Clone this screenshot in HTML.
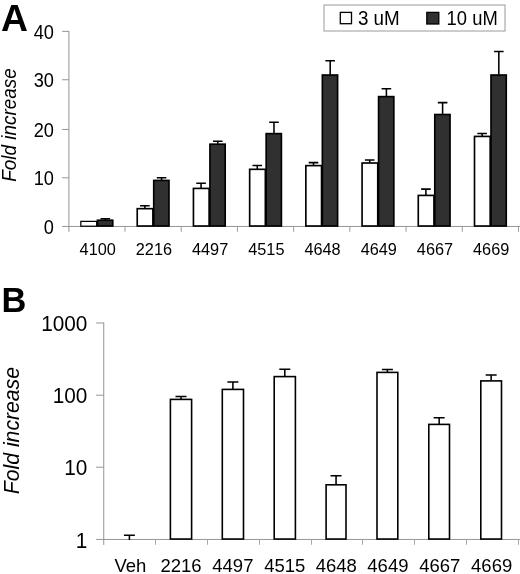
<!DOCTYPE html>
<html><head><meta charset="utf-8"><title>Figure</title>
<style>html,body{margin:0;padding:0;background:#fff;}svg{display:block;will-change:transform;}text{font-family:"Liberation Sans",sans-serif;fill:#000;}</style>
</head><body>
<svg width="520" height="574" viewBox="0 0 520 574">
<rect x="0" y="0" width="520" height="574" fill="#fff"/>
<text x="1.0" y="31.3" font-size="37.3" font-weight="bold">A</text>
<rect x="324" y="5" width="181" height="26" fill="#fff" stroke="#9a9a9a" stroke-width="1"/>
<rect x="340.3" y="12.4" width="11.2" height="11.3" fill="#fff" stroke="#000" stroke-width="1.3"/>
<text transform="translate(357.90,24.60) scale(1,1.06)" font-size="18.8" text-anchor="start">3 uM</text>
<rect x="426.8" y="12.4" width="12" height="11.6" fill="#303030" stroke="#000" stroke-width="1.3"/>
<text transform="translate(446.60,24.60) scale(1,1.06)" font-size="18.4" text-anchor="start">10 uM</text>
<g stroke="#949494" stroke-width="1" fill="none">
<line x1="68.9" y1="30.85" x2="68.9" y2="231.75"/>
<line x1="62.10000000000001" y1="226.45" x2="520" y2="226.45"/>
<line x1="62.10000000000001" y1="31.35" x2="68.9" y2="31.35"/>
<line x1="62.10000000000001" y1="79.75" x2="68.9" y2="79.75"/>
<line x1="62.10000000000001" y1="129.45" x2="68.9" y2="129.45"/>
<line x1="62.10000000000001" y1="177.80" x2="68.9" y2="177.80"/>
<line x1="125.01" y1="226.45" x2="125.01" y2="231.75" stroke="#9c9c9c"/>
<line x1="181.22" y1="226.45" x2="181.22" y2="231.75" stroke="#9c9c9c"/>
<line x1="237.43" y1="226.45" x2="237.43" y2="231.75" stroke="#9c9c9c"/>
<line x1="293.64" y1="226.45" x2="293.64" y2="231.75" stroke="#9c9c9c"/>
<line x1="349.85" y1="226.45" x2="349.85" y2="231.75" stroke="#9c9c9c"/>
<line x1="406.06" y1="226.45" x2="406.06" y2="231.75" stroke="#9c9c9c"/>
<line x1="462.27" y1="226.45" x2="462.27" y2="231.75" stroke="#9c9c9c"/>
<line x1="518.48" y1="226.45" x2="518.48" y2="231.75" stroke="#9c9c9c"/>
</g>
<text transform="translate(54.00,38.50) scale(1,1.08)" font-size="18.2" text-anchor="end">40</text>
<text transform="translate(54.00,86.90) scale(1,1.08)" font-size="18.2" text-anchor="end">30</text>
<text transform="translate(54.00,136.60) scale(1,1.08)" font-size="18.2" text-anchor="end">20</text>
<text transform="translate(54.00,184.95) scale(1,1.08)" font-size="18.2" text-anchor="end">10</text>
<text transform="translate(54.00,233.60) scale(1,1.08)" font-size="18.2" text-anchor="end">0</text>
<text transform="translate(16.2,125) rotate(-90) scale(1,1.06)" font-size="18.9" font-style="italic" text-anchor="middle">Fold increase</text>
<path d="M105.35 219.90V218.75M100.55 218.75H110.15" stroke="#000" stroke-width="1.55" fill="none"/>
<rect x="80.83" y="221.38" width="15.87" height="4.85" fill="#fff" stroke="#000" stroke-width="1.25"/>
<rect x="97.52" y="220.22" width="15.25" height="5.80" fill="#303030" stroke="#000" stroke-width="1.65"/>
<text x="97.70" y="255.3" font-size="16.3" text-anchor="middle">4100</text>
<path d="M144.86 208.35V205.75M140.06 205.75H149.66" stroke="#000" stroke-width="1.55" fill="none"/>
<path d="M161.56 180.10V177.75M156.76 177.75H166.36" stroke="#000" stroke-width="1.55" fill="none"/>
<rect x="137.23" y="208.67" width="15.68" height="17.35" fill="#fff" stroke="#000" stroke-width="1.65"/>
<rect x="153.73" y="180.42" width="15.25" height="45.60" fill="#303030" stroke="#000" stroke-width="1.65"/>
<text x="153.91" y="255.3" font-size="16.3" text-anchor="middle">2216</text>
<path d="M201.07 188.10V183.25M196.27 183.25H205.87" stroke="#000" stroke-width="1.55" fill="none"/>
<path d="M217.77 143.85V141.25M212.97 141.25H222.57" stroke="#000" stroke-width="1.55" fill="none"/>
<rect x="193.44" y="188.42" width="15.68" height="37.60" fill="#fff" stroke="#000" stroke-width="1.65"/>
<rect x="209.94" y="144.17" width="15.25" height="81.85" fill="#303030" stroke="#000" stroke-width="1.65"/>
<text x="210.12" y="255.3" font-size="16.3" text-anchor="middle">4497</text>
<path d="M257.28 169.00V165.50M252.48 165.50H262.08" stroke="#000" stroke-width="1.55" fill="none"/>
<path d="M273.98 133.30V122.20M269.18 122.20H278.78" stroke="#000" stroke-width="1.55" fill="none"/>
<rect x="249.66" y="169.32" width="15.67" height="56.70" fill="#fff" stroke="#000" stroke-width="1.65"/>
<rect x="266.15" y="133.62" width="15.25" height="92.40" fill="#303030" stroke="#000" stroke-width="1.65"/>
<text x="266.34" y="255.3" font-size="16.3" text-anchor="middle">4515</text>
<path d="M313.49 165.30V162.60M308.69 162.60H318.29" stroke="#000" stroke-width="1.55" fill="none"/>
<path d="M330.19 74.70V60.80M325.39 60.80H334.99" stroke="#000" stroke-width="1.55" fill="none"/>
<rect x="305.86" y="165.62" width="15.68" height="60.40" fill="#fff" stroke="#000" stroke-width="1.65"/>
<rect x="322.36" y="75.02" width="15.25" height="151.00" fill="#303030" stroke="#000" stroke-width="1.65"/>
<text x="322.55" y="255.3" font-size="16.3" text-anchor="middle">4648</text>
<path d="M369.70 162.70V160.00M364.90 160.00H374.50" stroke="#000" stroke-width="1.55" fill="none"/>
<path d="M386.40 96.30V88.70M381.60 88.70H391.20" stroke="#000" stroke-width="1.55" fill="none"/>
<rect x="362.07" y="163.02" width="15.68" height="63.00" fill="#fff" stroke="#000" stroke-width="1.65"/>
<rect x="378.57" y="96.62" width="15.25" height="129.40" fill="#303030" stroke="#000" stroke-width="1.65"/>
<text x="378.76" y="255.3" font-size="16.3" text-anchor="middle">4649</text>
<path d="M425.91 195.10V189.10M421.11 189.10H430.71" stroke="#000" stroke-width="1.55" fill="none"/>
<path d="M442.61 114.20V102.60M437.81 102.60H447.41" stroke="#000" stroke-width="1.55" fill="none"/>
<rect x="418.28" y="195.42" width="15.68" height="30.60" fill="#fff" stroke="#000" stroke-width="1.65"/>
<rect x="434.78" y="114.52" width="15.25" height="111.50" fill="#303030" stroke="#000" stroke-width="1.65"/>
<text x="434.97" y="255.3" font-size="16.3" text-anchor="middle">4667</text>
<path d="M482.12 136.10V133.50M477.32 133.50H486.92" stroke="#000" stroke-width="1.55" fill="none"/>
<path d="M498.82 74.70V51.50M494.02 51.50H503.62" stroke="#000" stroke-width="1.55" fill="none"/>
<rect x="474.50" y="136.42" width="15.68" height="89.60" fill="#fff" stroke="#000" stroke-width="1.65"/>
<rect x="491.00" y="75.02" width="15.25" height="151.00" fill="#303030" stroke="#000" stroke-width="1.65"/>
<text x="491.18" y="255.3" font-size="16.3" text-anchor="middle">4669</text>
<text x="1.4" y="311.9" font-size="34.4" font-weight="bold">B</text>
<g stroke="#949494" stroke-width="1" fill="none">
<line x1="103.75" y1="322.5" x2="103.75" y2="544.95"/>
<line x1="96.15" y1="539.45" x2="520" y2="539.45"/>
<line x1="96.15" y1="467.20" x2="103.75" y2="467.20"/>
<line x1="96.15" y1="395.20" x2="103.75" y2="395.20"/>
<line x1="96.15" y1="323.00" x2="103.75" y2="323.00"/>
<line x1="155.50" y1="539.45" x2="155.50" y2="544.75" stroke="#a8a8a8"/>
<line x1="207.50" y1="539.45" x2="207.50" y2="544.75" stroke="#a8a8a8"/>
<line x1="259.50" y1="539.45" x2="259.50" y2="544.75" stroke="#a8a8a8"/>
<line x1="311.50" y1="539.45" x2="311.50" y2="544.75" stroke="#a8a8a8"/>
<line x1="362.50" y1="539.45" x2="362.50" y2="544.75" stroke="#a8a8a8"/>
<line x1="414.50" y1="539.45" x2="414.50" y2="544.75" stroke="#a8a8a8"/>
<line x1="466.50" y1="539.45" x2="466.50" y2="544.75" stroke="#a8a8a8"/>
<line x1="518.50" y1="539.45" x2="518.50" y2="544.75" stroke="#a8a8a8"/>
</g>
<text transform="translate(87.40,547.55) scale(1,1.07)" font-size="20.8" text-anchor="end">1</text>
<text transform="translate(87.40,475.30) scale(1,1.07)" font-size="20.8" text-anchor="end">10</text>
<text transform="translate(87.40,403.30) scale(1,1.07)" font-size="20.8" text-anchor="end">100</text>
<text transform="translate(87.40,331.10) scale(1,1.07)" font-size="20.8" text-anchor="end">1000</text>
<text transform="translate(18.6,430.6) rotate(-90) scale(1,1.06)" font-size="21.2" font-style="italic" text-anchor="middle">Fold increase</text>
<path d="M129.40 539.95V535.25M123.90 535.25H134.90" stroke="#000" stroke-width="1.55" fill="none"/>
<text x="130.47" y="572.1" font-size="18.5" text-anchor="middle">Veh</text>
<path d="M181.00 399.10V396.40M175.50 396.40H186.50" stroke="#000" stroke-width="1.55" fill="none"/>
<rect x="170.40" y="399.40" width="21.20" height="139.65" fill="#fff" stroke="#000" stroke-width="1.6"/>
<text x="181.00" y="572.1" font-size="18.5" text-anchor="middle">2216</text>
<path d="M232.90 389.10V382.00M227.40 382.00H238.40" stroke="#000" stroke-width="1.55" fill="none"/>
<rect x="222.30" y="389.40" width="21.20" height="149.65" fill="#fff" stroke="#000" stroke-width="1.6"/>
<text x="232.88" y="572.1" font-size="18.5" text-anchor="middle">4497</text>
<path d="M284.80 376.30V369.30M279.30 369.30H290.30" stroke="#000" stroke-width="1.55" fill="none"/>
<rect x="274.20" y="376.60" width="21.20" height="162.45" fill="#fff" stroke="#000" stroke-width="1.6"/>
<text x="284.75" y="572.1" font-size="18.5" text-anchor="middle">4515</text>
<path d="M336.05 484.50V475.80M330.55 475.80H341.55" stroke="#000" stroke-width="1.55" fill="none"/>
<rect x="326.10" y="484.80" width="19.90" height="54.25" fill="#fff" stroke="#000" stroke-width="1.6"/>
<text x="336.31" y="572.1" font-size="18.5" text-anchor="middle">4648</text>
<path d="M387.40 372.10V369.50M381.90 369.50H392.90" stroke="#000" stroke-width="1.55" fill="none"/>
<rect x="377.00" y="372.40" width="20.80" height="166.65" fill="#fff" stroke="#000" stroke-width="1.6"/>
<text x="387.92" y="572.1" font-size="18.5" text-anchor="middle">4649</text>
<path d="M439.15 424.10V417.70M433.65 417.70H444.65" stroke="#000" stroke-width="1.55" fill="none"/>
<rect x="428.80" y="424.40" width="20.70" height="114.65" fill="#fff" stroke="#000" stroke-width="1.6"/>
<text x="439.72" y="572.1" font-size="18.5" text-anchor="middle">4667</text>
<path d="M491.15 380.60V375.00M485.65 375.00H496.65" stroke="#000" stroke-width="1.55" fill="none"/>
<rect x="480.80" y="380.90" width="20.70" height="158.15" fill="#fff" stroke="#000" stroke-width="1.6"/>
<text x="491.65" y="572.1" font-size="18.5" text-anchor="middle">4669</text>
</svg>
</body></html>
